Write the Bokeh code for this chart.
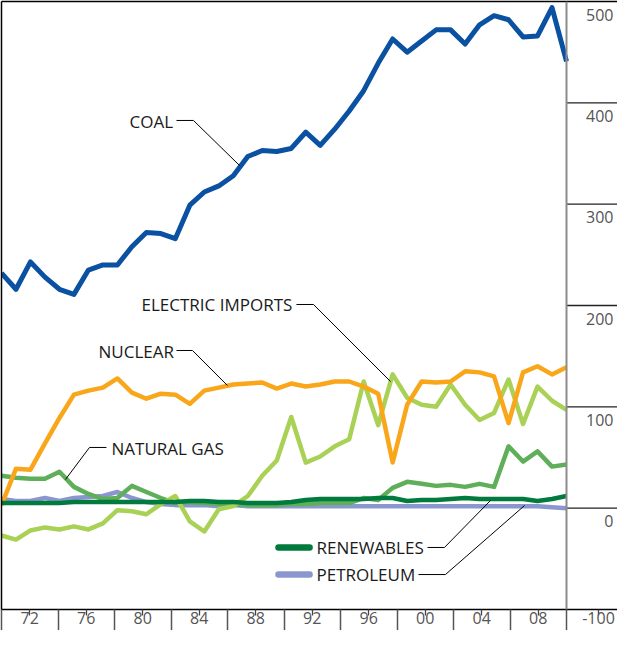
from bokeh.plotting import figure
from bokeh.models import Range1d, LinearAxis, FixedTicker, Span, Label
from bokeh.core.properties import value
from bokeh.embed import file_html
from bokeh.resources import INLINE

# ---------------- data ----------------
years = list(range(1970, 2010))

coal = [232, 216, 243, 228, 216, 211, 235, 240, 240, 258,
        272, 271, 266, 299, 312, 318, 328, 347, 353, 352,
        355, 371, 358, 374, 392, 412, 439, 463, 450, 461,
        472, 472, 458, 477, 486, 482, 465, 466, 494, 441]

nuclear = [3, 39, 38, 64, 89, 112, 116, 119, 128, 114,
           108, 113, 112, 103, 116, 119, 122, 123, 124, 118,
           123, 120, 122, 125, 125, 120, 113, 45, 102, 125,
           124, 125, 135, 134, 130, 84, 134, 140, 132, 139]

electric_imports = [-27, -31, -22, -19, -21, -18, -21, -15, -2, -3,
                    -6, 4, 12, -13, -23, -1, 2, 12, 32, 47,
                    90, 45, 51, 61, 68, 125, 82, 132, 109, 102,
                    100, 122, 102, 87, 94, 127, 83, 120, 106, 97]

natural_gas = [32, 30, 29, 29, 36, 21, 14, 9, 10, 22,
               16, 10, 5, 6, 5, 4, 4, 3, 3, 3,
               4, 4, 5, 5, 5, 10, 8, 20, 26, 24,
               22, 23, 21, 24, 21, 61, 46, 56, 41, 43]

renewables = [5, 5, 5, 5, 5, 6, 6, 6, 6, 6,
              6, 6, 6, 7, 7, 6, 6, 5, 5, 5,
              6, 8, 9, 9, 9, 9, 10, 10, 7, 8,
              8, 9, 10, 9, 9, 9, 9, 7, 9, 12]

petroleum = [9, 7, 7, 10, 7, 10, 11, 12, 16, 10,
             6, 4, 3, 3, 3, 2, 3, 2, 2, 2,
             2, 2, 2, 2, 2, 2, 2, 2, 2, 2,
             2, 2, 2, 2, 2, 2, 2, 2, 1, 0]

y_ticks = [500, 400, 300, 200, 100, 0, -100]
y_tick_labels = ["500", "400", "300", "200", "100", "0", "-100"]
x_ticks = [1972, 1976, 1980, 1984, 1988, 1992, 1996, 2000, 2004, 2008]
x_tick_labels = ["72", "76", "80", "84", "88", "92", "96", "00", "04", "08"]
x_bounds = [1970, 1974, 1978, 1982, 1986, 1990, 1994, 1998, 2002, 2006, 2010]

# ---------------- colours ----------------
C_COAL = "#0a51a1"
C_NUC = "#f9a61a"
C_ELEC = "#a8d155"
C_GAS = "#5fae5a"
C_REN = "#007a3d"
C_PET = "#8a97cf"

# ---------------- layout ----------------
W, H = 617, 630
FRAME_W = W - 1            # frame width in px
AXIS_PX = 565              # px between 1970 and 2010 on the axis
x_axis_end = 1970 + 40 * FRAME_W / AXIS_PX
data_end = 1970 + (len(years) - 1) * FRAME_W / AXIS_PX
low_label_x = 1970 + 597 / (AXIS_PX / 40)   # where the lowest value label sits

p = figure(width=W, height=H, output_backend="svg", toolbar_location=None,
           x_range=Range1d(1970, data_end), y_range=Range1d(-100, 500),
           x_axis_type=None, y_axis_type=None,
           min_border_left=1, min_border_right=0, min_border_top=1,
           min_border_bottom=21)
p.extra_x_ranges = {"axis": Range1d(1970, x_axis_end)}
p.outline_line_color = None
p.xgrid.visible = False
p.ygrid.visible = False
p.background_fill_color = "white"
p.border_fill_color = "white"

FONT = "Open Sans"

# bottom axis (the lowest value label sits in its band, at the right end)
xa = LinearAxis(x_range_name="axis",
                ticker=FixedTicker(ticks=x_ticks + [low_label_x], minor_ticks=x_bounds))
overrides = dict(zip(x_ticks, x_tick_labels))
overrides[low_label_x] = y_tick_labels[-1]
xa.major_label_overrides = overrides
xa.axis_line_color = "black"
xa.axis_line_width = 1.5
xa.major_tick_out = 6
xa.major_tick_in = 0
xa.major_tick_line_color = "#444444"
xa.major_tick_line_width = 1.3
xa.minor_tick_out = 21
xa.minor_tick_in = 0
xa.minor_tick_line_color = "#555555"
xa.minor_tick_line_width = 1.5
xa.major_label_standoff = -19
xa.major_label_text_font = FONT
xa.major_label_text_font_size = "16px"
xa.major_label_text_color = "#555555"
p.add_layout(xa, "below")

# top and left frame lines
ta = LinearAxis(x_range_name="axis", ticker=FixedTicker(ticks=[]))
ta.axis_line_color = "black"
ta.axis_line_width = 1.5
ta.major_tick_out = 0
ta.major_tick_in = 0
ta.minor_tick_out = 0
ta.major_label_standoff = 0
p.add_layout(ta, "above")

la = LinearAxis(ticker=FixedTicker(ticks=[]))
la.axis_line_color = "black"
la.axis_line_width = 1.5
la.major_tick_out = 0
la.major_tick_in = 0
la.minor_tick_out = 0
la.major_label_standoff = 0
p.add_layout(la, "left")

# value axis (right side, drawn inside the frame)
p.add_layout(Span(location=2010, dimension="height", x_range_name="axis",
                  line_color="#8c8c8c", line_width=2))
stub_vals = y_ticks[1:-1]
p.segment(x0=[2010] * len(stub_vals), x1=[x_axis_end] * len(stub_vals),
          y0=stub_vals, y1=stub_vals, x_range_name="axis",
          line_color="#222222", line_width=1.4)
for v, t in zip(y_ticks[:-1], y_tick_labels[:-1]):
    p.add_layout(Label(x=x_axis_end, y=v, text=t, x_range_name="axis",
                       text_align="right", text_baseline="middle",
                       x_offset=-4, y_offset=-13, text_font=FONT,
                       text_font_size="16px", text_color="#555555"))

# ---------------- series ----------------
LW = 4.5
p.line(years, petroleum, line_color=C_PET, line_width=LW, line_join="round")
p.line(years, natural_gas, line_color=C_GAS, line_width=LW, line_join="round")
p.line(years, electric_imports, line_color=C_ELEC, line_width=LW, line_join="round")
p.line(years, nuclear, line_color=C_NUC, line_width=LW, line_join="round")
p.line(years, renewables, line_color=C_REN, line_width=LW, line_join="round")
p.line(years, coal, line_color=C_COAL, line_width=5, line_join="round")

# ---------------- annotations ----------------
def label(x, y, txt):
    p.text(x=[x], y=[y], text=[txt], x_range_name="axis",
           text_align="left", text_baseline="middle",
           text_font=value(FONT), text_font_size="17px", text_color="#1a1a1a")

def leader(xs, ys):
    p.line(xs, ys, x_range_name="axis", line_color="black", line_width=1)

label(1979.06, 381.6, "COAL")
leader([1982.39, 1983.59, 1986.85], [382.6, 382.6, 338.2])

label(1979.91, 201.0, "ELECTRIC IMPORTS")
leader([1990.88, 1992.09, 1997.54], [201.0, 201.0, 125.0])

label(1976.87, 154.6, "NUCLEAR")
leader([1982.39, 1983.52, 1986.0], [155.6, 155.6, 121.0])

label(1977.79, 58.9, "NATURAL GAS")
leader([1977.43, 1976.23, 1974.53], [59.9, 59.9, 28.3])

# legend-like keys
p.segment(x0=[1989.61], x1=[1991.81], y0=[-38.8], y1=[-38.8], x_range_name="axis",
          line_color=C_REN, line_width=6.5, line_cap="round")
label(1992.30, -38.8, "RENEWABLES")
leader([2000.16, 2001.36, 2004.62], [-38.8, -38.8, 7.6])

p.segment(x0=[1989.61], x1=[1991.81], y0=[-65.5], y1=[-65.5], x_range_name="axis",
          line_color=C_PET, line_width=6.5, line_cap="round")
label(1992.30, -65.5, "PETROLEUM")
leader([1999.52, 2001.43, 2007.03], [-65.5, -65.5, 2.6])

open("out.html", "w").write(file_html(p, INLINE))
